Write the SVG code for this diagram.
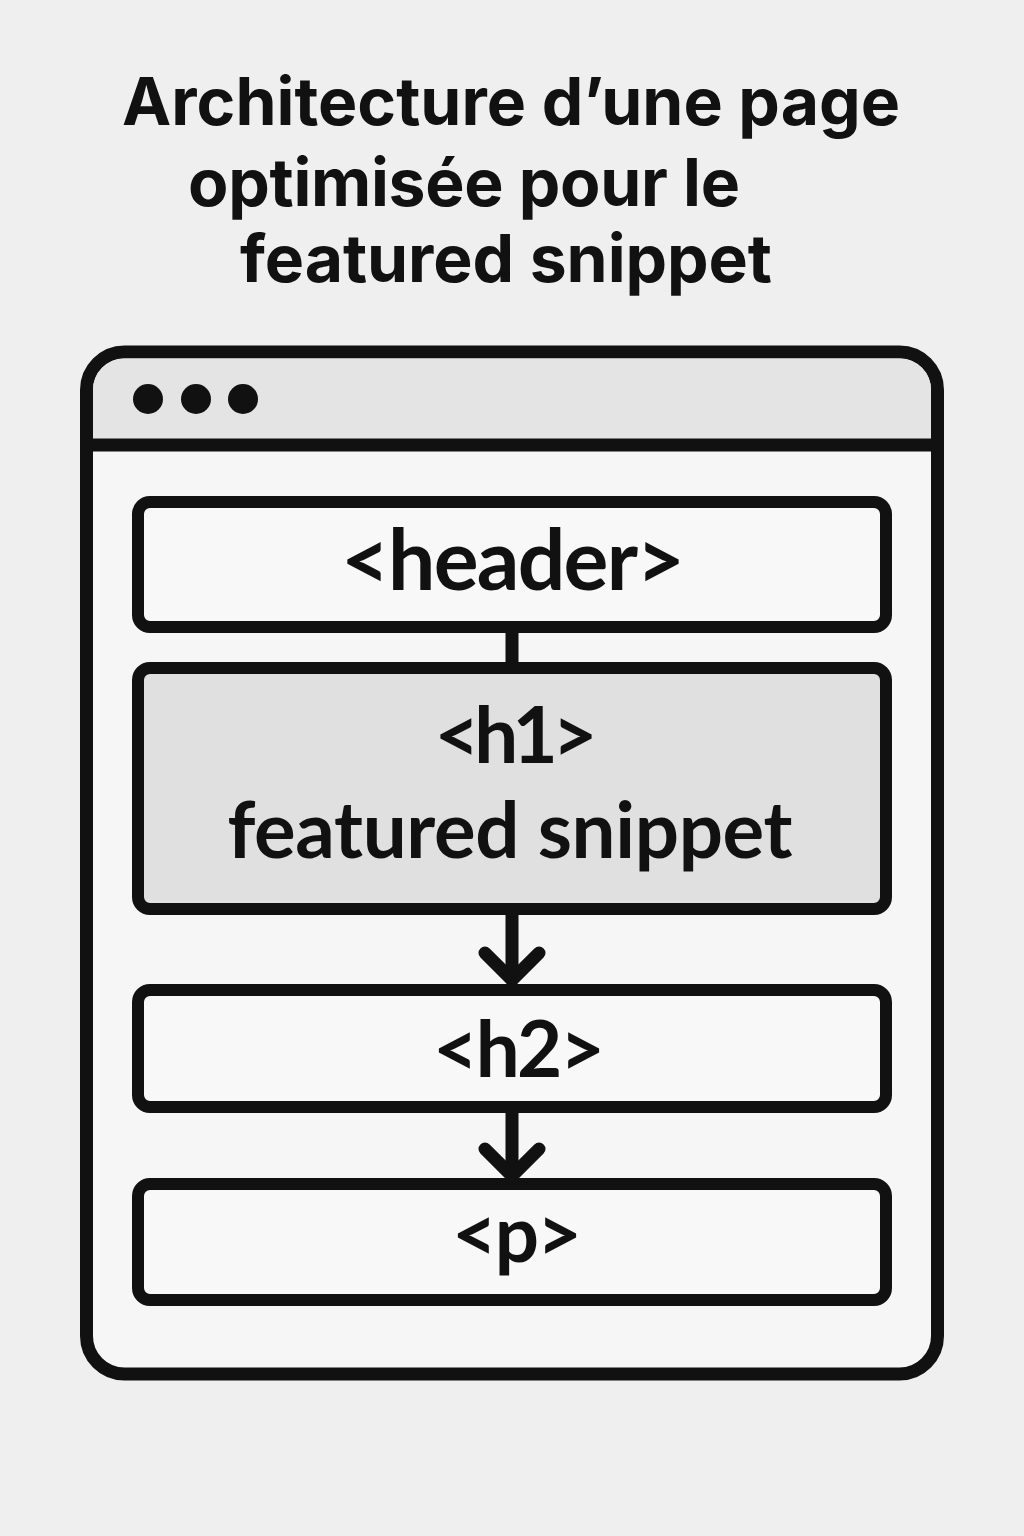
<svg xmlns="http://www.w3.org/2000/svg" width="1024" height="1536" viewBox="0 0 1024 1536">
<defs>
<style>
.title{font-family:Inter,"Noto Sans","Liberation Sans",sans-serif;font-weight:700;font-size:66px;fill:#111;font-variant-ligatures:none}
.lbl{font-family:Lato,"Noto Sans","Liberation Sans",sans-serif;font-weight:700;fill:#111;text-anchor:middle;font-variant-ligatures:none}
.box{stroke:#111;stroke-width:12}
.conn{stroke:#111;stroke-width:13;fill:none;stroke-linecap:round;stroke-linejoin:round}
</style>
</defs>
<rect x="0" y="0" width="1024" height="1536" fill="#efefef"/>
<g id="title">
<text class="title" x="122" y="125" textLength="778">Architecture d’une page</text>
<text class="title" x="188" y="206" textLength="552">optimisée pour le</text>
<text class="title" x="240" y="282" textLength="532">featured snippet</text>
</g>
<g id="browser">
<rect x="86.5" y="352" width="851" height="1022" rx="38" fill="#f6f6f6" stroke="#111" stroke-width="13"/>
<path d="M93 445 V390 A31 31 0 0 1 124 358.5 H900 A31 31 0 0 1 931 390 V445 Z" fill="#e4e4e4"/>
<line x1="86.5" y1="445" x2="937.5" y2="445" stroke="#111" stroke-width="13"/>
<circle cx="148" cy="399" r="15" fill="#111"/>
<circle cx="196" cy="399" r="15" fill="#111"/>
<circle cx="243" cy="399" r="15" fill="#111"/>
</g>
<g id="connectors">
<line class="conn" x1="512" y1="627" x2="512" y2="668" stroke-linecap="butt"/>
<line class="conn" x1="512" y1="909" x2="512" y2="980" stroke-linecap="butt"/>
<polyline class="conn" points="485,953 512,980 539,953"/>
<line class="conn" x1="512" y1="1107" x2="512" y2="1176" stroke-linecap="butt"/>
<polyline class="conn" points="485,1149 512,1176 539,1149"/>
</g>
<g id="header">
<rect class="box" x="138" y="502" width="748" height="125" rx="12" fill="#f8f8f8"/>
<text class="lbl" x="513" y="590" font-size="84" textLength="344">&lt;header&gt;</text>
</g>
<g id="h1">
<rect class="box" x="138" y="668" width="748" height="241" rx="12" fill="#e0e0e0"/>
<text class="lbl" x="516" y="763" font-size="78" textLength="163">&lt;h1&gt;</text>
<text class="lbl" x="510" y="858" font-size="78" textLength="565">featured snippet</text>
</g>
<g id="h2">
<rect class="box" x="138" y="990" width="748" height="117" rx="12" fill="#f8f8f8"/>
<text class="lbl" x="519" y="1077" font-size="78" textLength="172">&lt;h2&gt;</text>
</g>
<g id="p">
<rect class="box" x="138" y="1184" width="748" height="116" rx="12" fill="#f8f8f8"/>
<text class="lbl" x="517" y="1262" font-size="78" textLength="130">&lt;p&gt;</text>
</g>
</svg>
